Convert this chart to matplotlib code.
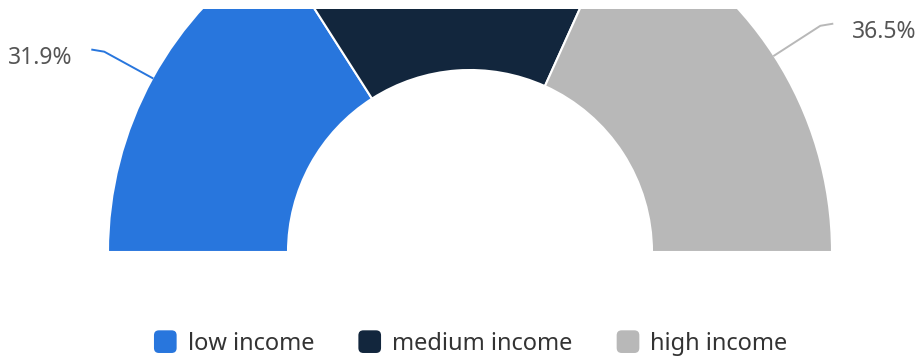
import numpy as np
import matplotlib.pyplot as plt
from matplotlib.patches import Wedge, Rectangle, FancyBboxPatch
from matplotlib.legend_handler import HandlerPatch

plt.rcParams['font.family'] = ['Noto Sans', 'DejaVu Sans']

categories = ['low income', 'medium income', 'high income']
shares = [31.9, 31.6, 36.5]
colors = ['#2876dd', '#12263d', '#b8b8b8']
label_shown = [True, False, True]


class RoundBoxHandler(HandlerPatch):
    def create_artists(self, legend, orig_handle, xdescent, ydescent,
                       width, height, fontsize, trans):
        size = min(width, height)
        box = FancyBboxPatch((-xdescent + (width - size) / 2, -ydescent + (height - size) / 2),
                             size, size, boxstyle='round,pad=0,rounding_size=%f' % (size * 0.22),
                             facecolor=orig_handle.get_facecolor(), edgecolor='none',
                             transform=trans)
        return [box]


fig = plt.figure(figsize=(9.2, 3.6), dpi=100)
ax = fig.add_axes([0, 0, 1, 1])
ax.set_xlim(0, 920)
ax.set_ylim(0, 360)
ax.axis('off')

cx, cy = 470, 108
r_out, r_in = 362, 182
clip = Rectangle((0, 0), 920, 351, transform=ax.transData)

total = sum(shares)
start = 180.0
for cat, val, col, show in zip(categories, shares, colors, label_shown):
    span = 180.0 * val / total
    end = start - span
    w = Wedge((cx, cy), r_out, end, start, width=r_out - r_in,
              facecolor=col, edgecolor='white', linewidth=1.5)
    ax.add_patch(w)
    w.set_clip_path(clip)

    if show:
        # leader line: radial out from the arc, then a short horizontal hook
        mid = np.radians((start + end) / 2)
        dx, dy = np.cos(mid), np.sin(mid)
        p0 = (cx + r_out * dx, cy + r_out * dy)
        p1 = (cx + (r_out + 55) * dx, cy + (r_out + 55) * dy)
        side = 1 if dx > 0 else -1
        p2 = (p1[0] + side * 12, p1[1] + 2)
        ax.plot([p0[0], p1[0], p2[0]], [p0[1], p1[1], p2[1]],
                color=col, lw=1.4, solid_joinstyle='round')
        ax.text(p2[0] + side * 20, p2[1] - 8, '%.1f%%' % val,
                ha='left' if side > 0 else 'right', va='center',
                fontsize=16.5, color='#555555')
    start = end

handles = [Rectangle((0, 0), 1, 1, facecolor=c) for c in colors]
leg = ax.legend(handles, categories, ncol=3, loc='center',
                bbox_to_anchor=(470 / 920, 17 / 360), frameon=False, fontsize=17,
                handlelength=1.1, handleheight=1.1, handletextpad=0.4,
                columnspacing=1.8, labelcolor='#333333',
                handler_map={Rectangle: RoundBoxHandler()})

fig.savefig('out.png', dpi=100)
